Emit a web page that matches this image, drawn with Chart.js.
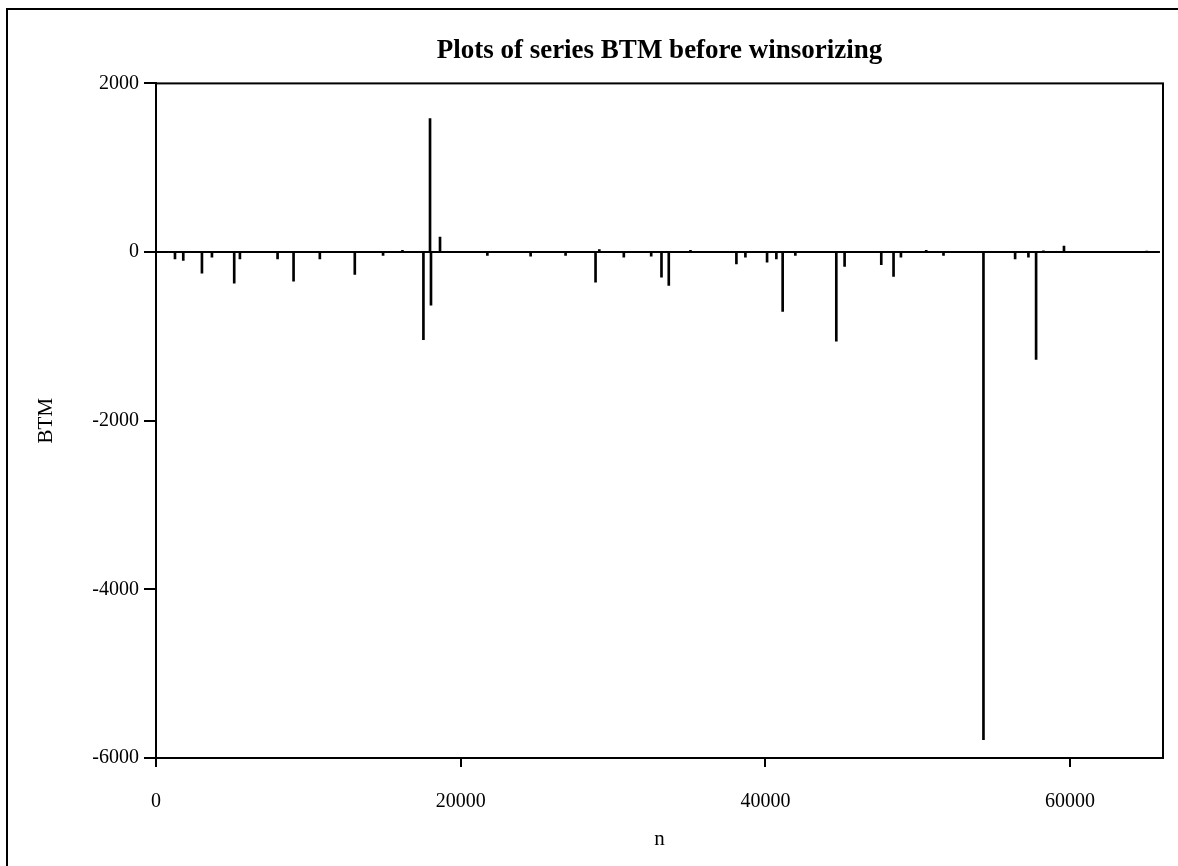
<!DOCTYPE html>
<html>
<head>
<meta charset="utf-8">
<script src="https://cdn.jsdelivr.net/npm/chart.js@4"></script>
<style>
  html, body { margin: 0; padding: 0; background: #fff; overflow: hidden; }
  #frame { position: absolute; left: 6px; top: 8px; width: 1220px; height: 900px;
           border-left: 2px solid #000; border-top: 2px solid #000; }
  #wrap { position: absolute; left: 0; top: 0; width: 1178px; height: 866px; }
</style>
</head>
<body>
<div id="frame"></div>
<div id="wrap"><canvas id="chart" width="1178" height="866"></canvas></div>
<script>
const spikeN = [1246, 1790, 3016, 3672, 5134, 5508, 7980, 9030, 10754, 13049, 14905, 16177,
  17554, 17987, 18050, 18643, 21751, 24590, 26885, 28852, 29100, 30708, 32505, 33180, 33659,
  35082, 38098, 38689, 40111, 40721, 41134, 41967, 44656, 45200, 47607, 48413, 48898, 50557,
  51692, 54315, 56393, 57266, 57770, 58250, 59600, 65030];
const spikeBTM = [-80, -100, -250, -60, -370, -80, -80, -345, -80, -265, -40, 20,
  -1040, 1583, -630, 178, -40, -50, -40, -356, 30, -60, -50, -297, -395,
  20, -140, -60, -120, -80, -705, -40, -1056, -170, -150, -290, -60, 20,
  -40, -5784, -80, -60, -1274, 15, 70, 10];
const seriesStart = 0;
const seriesEnd = 65900;
const xTicks = [0, 20000, 40000, 60000];
const yTicks = [-6000, -4000, -2000, 0, 2000];

const serif = 'Liberation Serif, Times New Roman, serif';

// box around the plotting area
const framePlugin = {
  id: 'frame',
  afterDatasetsDraw(chart) {
    const { ctx, chartArea: a } = chart;
    ctx.save();
    ctx.strokeStyle = '#000';
    ctx.lineWidth = 2;
    ctx.strokeRect(a.left, a.top, a.right - a.left, a.bottom - a.top);
    ctx.restore();
  }
};

new Chart(document.getElementById('chart'), {
  type: 'bar',
  data: {
    datasets: [
      {
        type: 'line',
        data: [{ x: seriesStart, y: 0 }, { x: seriesEnd, y: 0 }],
        borderColor: '#000',
        borderWidth: 2,
        pointRadius: 0
      },
      {
        data: spikeN.map((n, i) => ({ x: n, y: spikeBTM[i] })),
        backgroundColor: '#000',
        borderWidth: 0,
        barThickness: 2,
        grouped: false
      }
    ]
  },
  options: {
    responsive: false,
    animation: false,
    devicePixelRatio: 1,
    layout: { padding: { left: 0, right: 15, top: 0, bottom: 0 } },
    plugins: {
      legend: { display: false },
      tooltip: { enabled: false },
      title: {
        display: true,
        fullSize: false,
        text: 'Plots of series BTM before winsorizing',
        color: '#000',
        font: { family: serif, size: 27, weight: 'bold', lineHeight: 1.2 },
        padding: { top: 35, bottom: 16 }
      }
    },
    scales: {
      x: {
        type: 'linear',
        offset: false,
        min: 0,
        max: 66100,
        afterBuildTicks: s => { s.ticks = xTicks.map(v => ({ value: v })); },
        afterFit: s => { s.height = 108; },
        ticks: { color: '#000', font: { family: serif, size: 20 }, padding: 23, maxRotation: 0,
                 callback: v => String(v) },
        grid: { offset: false, drawOnChartArea: false, drawTicks: true, tickLength: 9, color: '#000', lineWidth: 2 },
        border: { display: true, color: '#000', width: 2 },
        title: {
          display: true, text: 'n', color: '#000',
          font: { family: serif, size: 21 }, padding: { top: 0, bottom: 14 }
        }
      },
      y: {
        min: -6000,
        max: 2000,
        afterBuildTicks: s => { s.ticks = yTicks.map(v => ({ value: v })); },
        afterFit: s => { s.width = 156; },
        ticks: { color: '#000', font: { family: serif, size: 20 }, padding: 5,
                 callback: v => String(v) },
        grid: { drawOnChartArea: false, drawTicks: true, tickLength: 12, color: '#000', lineWidth: 2 },
        border: { display: true, color: '#000', width: 2 },
        title: {
          display: true, text: 'BTM', color: '#000',
          font: { family: serif, size: 21 }, padding: { top: 34, bottom: 0 }
        }
      }
    }
  },
  plugins: [framePlugin]
});
</script>
</body>
</html>
